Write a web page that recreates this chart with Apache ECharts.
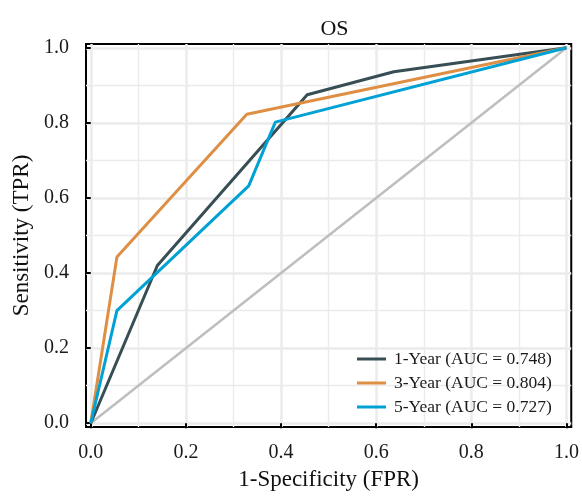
<!DOCTYPE html>
<html>
<head>
<meta charset="utf-8">
<script src="https://cdn.jsdelivr.net/npm/echarts@6/dist/echarts.min.js"></script>
<style>
  html, body { margin: 0; padding: 0; background: #fff; }
  #main { width: 582px; height: 496px; }
</style>
</head>
<body>
<div id="main"></div>
<script>
// ROC points
const oneYearFpr = [0, 0.14, 0.455, 0.637, 1]
const oneYearTpr = [0, 0.42, 0.875, 0.936, 1]
const threeYearFpr = [0, 0.055, 0.328, 1]
const threeYearTpr = [0, 0.443, 0.823, 1]
const fiveYearFpr = [0, 0.055, 0.332, 0.388, 1]
const fiveYearTpr = [0, 0.30, 0.632, 0.802, 1]
const diagFpr = [0, 1]
const diagTpr = [0, 1]

const seriesNames = ['1-Year (AUC = 0.748)', '3-Year (AUC = 0.804)', '5-Year (AUC = 0.727)']
const seriesColors = ['#374E55', '#DF8F44', '#00A1D5']

const tickValues = [0, 0.2, 0.4, 0.6, 0.8, 1]
const minorValues = [0.1, 0.3, 0.5, 0.7, 0.9]

const font = '"Liberation Serif", "DejaVu Serif", serif'

function pairs (xs, ys) {
  return xs.map((x, i) => [x, ys[i]])
}

var myChart = echarts.init(document.getElementById('main'))

// background grid drawn as mark lines so they sit on the real tick values
const gridLines = []
tickValues.forEach(v => {
  gridLines.push({ xAxis: v, lineStyle: { width: 2.5 } })
  gridLines.push({ yAxis: v, lineStyle: { width: 2.5 } })
})
minorValues.forEach(v => {
  gridLines.push({ xAxis: v, lineStyle: { width: 1.4 } })
  gridLines.push({ yAxis: v, lineStyle: { width: 1.4 } })
})

const rocData = [
  pairs(oneYearFpr, oneYearTpr),
  pairs(threeYearFpr, threeYearTpr),
  pairs(fiveYearFpr, fiveYearTpr)
]

const seriesList = [{
  type: 'line',
  name: 'grid',
  data: [],
  silent: true,
  markLine: {
    silent: true,
    symbol: 'none',
    z: 0,
    label: { show: false },
    emphasis: { disabled: true },
    lineStyle: { color: '#EBEBEB', type: 'solid' },
    data: gridLines
  }
}, {
  type: 'line',
  name: 'diag',
  data: pairs(diagFpr, diagTpr),
  symbol: 'none',
  silent: true,
  lineStyle: { color: '#BEBEBE', width: 2.5 },
  z: 2
}]

rocData.forEach((d, i) => {
  seriesList.push({
    type: 'line',
    name: seriesNames[i],
    data: d,
    symbol: 'none',
    color: seriesColors[i],
    lineStyle: { color: seriesColors[i], width: 3 },
    z: 3
  })
})

const option = {
  animation: false,
  backgroundColor: '#fff',
  title: {
    text: 'OS',
    left: 329.5,
    textAlign: 'center',
    top: 13,
    textStyle: { fontFamily: font, fontSize: 22, fontWeight: 'normal', color: '#111' }
  },
  grid: {
    left: 86,
    right: 9,
    top: 44,
    bottom: 66,
    show: true,
    borderColor: '#000',
    borderWidth: 2,
    backgroundColor: '#fff'
  },
  legend: {
    data: seriesNames.map(n => ({ name: n, icon: 'rect' })),
    orient: 'vertical',
    left: 352,
    top: 345,
    itemWidth: 29,
    itemHeight: 3,
    itemGap: 6,
    textStyle: { fontFamily: font, fontSize: 17.5, color: '#1a1a1a', padding: [0, 0, 0, 3] }
  },
  xAxis: {
    type: 'value',
    min: -0.01,
    max: 1.01,
    name: '1-Specificity (FPR)',
    nameLocation: 'middle',
    nameGap: 41,
    nameTextStyle: { fontFamily: font, fontSize: 23, color: '#111' },
    axisLine: { show: false },
    splitLine: { show: false },
    axisTick: { show: true, customValues: tickValues, length: 5, lineStyle: { color: '#000', width: 2 } },
    axisLabel: {
      customValues: tickValues,
      margin: 16,
      fontFamily: font,
      fontSize: 20,
      color: '#1a1a1a',
      formatter: v => v.toFixed(1)
    }
  },
  yAxis: {
    type: 'value',
    min: -0.01,
    max: 1.01,
    name: 'Sensitivity (TPR)',
    nameLocation: 'middle',
    nameGap: 52,
    nameTextStyle: { fontFamily: font, fontSize: 23, color: '#111' },
    axisLine: { show: false },
    splitLine: { show: false },
    axisTick: { show: true, customValues: tickValues, length: 5, lineStyle: { color: '#000', width: 2 } },
    axisLabel: {
      customValues: tickValues,
      margin: 17,
      fontFamily: font,
      fontSize: 20,
      color: '#1a1a1a',
      padding: [3, 0, 0, 0],
      formatter: v => v.toFixed(1)
    }
  },
  series: seriesList
}

myChart.setOption(option)
</script>
</body>
</html>
